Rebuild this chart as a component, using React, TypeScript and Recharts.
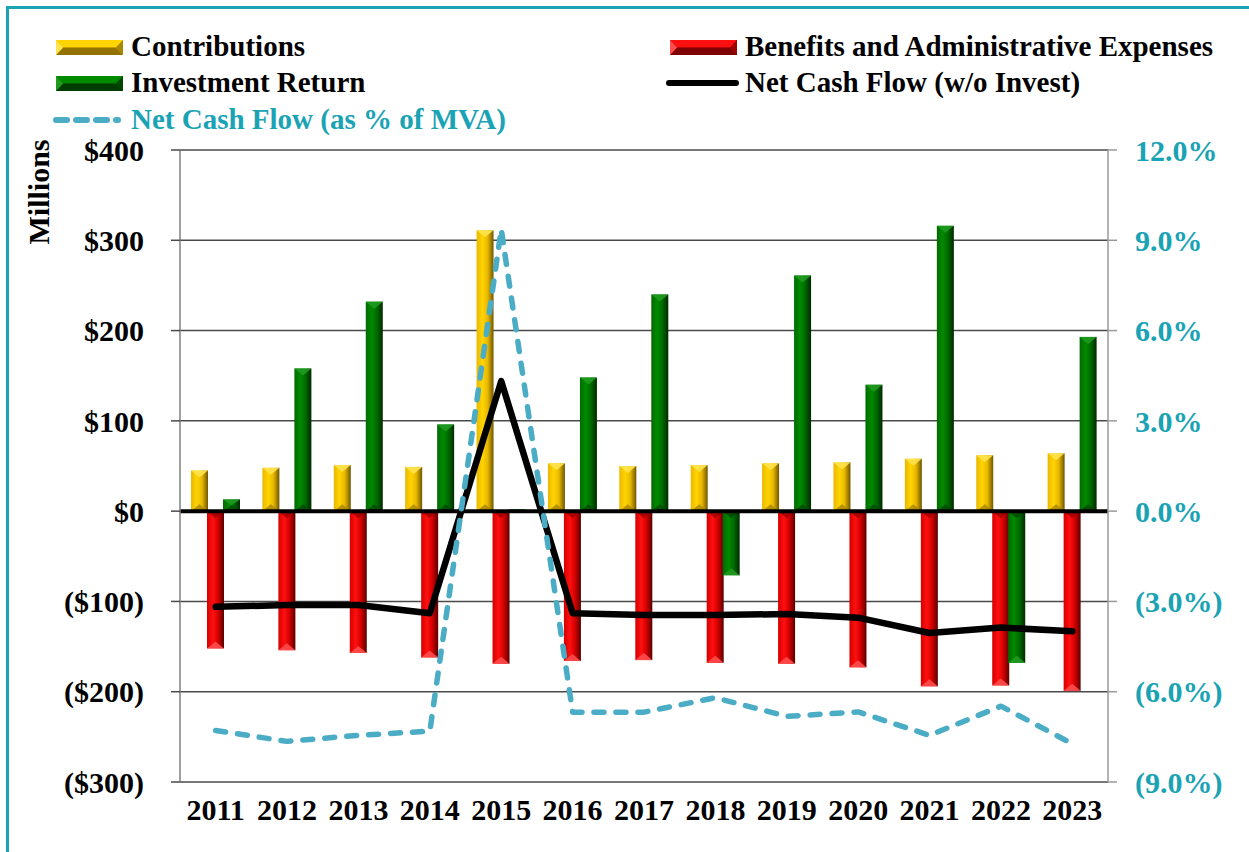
import React from "react";
import {
  ComposedChart,
  Bar,
  Line,
  XAxis,
  YAxis,
  CartesianGrid,
  ReferenceLine,
} from "recharts";

const years = ["2011", "2012", "2013", "2014", "2015", "2016", "2017", "2018", "2019", "2020", "2021", "2022", "2023"];
const contributions = [45, 48, 51, 49, 311, 53, 50, 51, 53, 54, 58, 62, 64];
const benefits = [-152, -154, -157, -162, -169, -166, -165, -168, -169, -173, -194, -193, -199];
const investment = [13, 158, 232, 96, 2, 148, 240, -71, 261, 140, 316, -168, 193];
const netCash = [-106, -104, -104, -113, 144, -113, -115, -115, -114, -118, -135, -129, -133];
const netPct = [-7.29, -7.65, -7.45, -7.31, 9.37, -6.68, -6.68, -6.2, -6.82, -6.67, -7.45, -6.48, -7.73];

const leftTicks = [-300, -200, -100, 0, 100, 200, 300, 400];
const rightTicks = [-9, -6, -3, 0, 3, 6, 9, 12];

const data = years.map((year, i) => ({
  year,
  contributions: contributions[i],
  benefits: benefits[i],
  investment: investment[i],
  netCash: netCash[i],
  netPct: netPct[i],
}));

const FONT = "'Liberation Serif', 'Times New Roman', serif";
const TEAL = "#19a3b4";
const LINE_BLUE = "#4bacc6";

const TONES: Record<string, { light: string; mid: string; dark: string; cap: string; base: string }> = {
  gold: { light: "#ffd400", mid: "#e8b800", dark: "#6e5600", cap: "#ffe34d", base: "#a88600" },
  red: { light: "#ff1010", mid: "#d40000", dark: "#5a0000", cap: "#ff4d4d", base: "#a00000" },
  green: { light: "#008a00", mid: "#006a00", dark: "#002a00", cap: "#1f9a1f", base: "#004800" },
};

function Gradients() {
  return (
    <svg width={0} height={0} style={{ position: "absolute" }}>
      <defs>
        {Object.entries(TONES).map(([k, t]) => (
          <linearGradient key={k} id={`grad-${k}`} x1="0" y1="0" x2="1" y2="0">
            <stop offset="0%" stopColor={t.mid} />
            <stop offset="35%" stopColor={t.light} />
            <stop offset="65%" stopColor={t.mid} />
            <stop offset="100%" stopColor={t.dark} />
          </linearGradient>
        ))}
      </defs>
    </svg>
  );
}

function makeBevel(tone: string) {
  return (props: any) => {
    const { x, y, width, height, value } = props;
    if (!width || height === undefined) return <g />;
    let top = y;
    let h = height;
    if (h < 0) {
      top = y + h;
      h = -h;
    }
    const t = TONES[tone];
    const neg = value < 0;
    const b = Math.min(width / 2, h / 2, 7);
    const cap = neg
      ? `${x},${top + h} ${x + width},${top + h} ${x + width / 2},${top + h - b}`
      : `${x},${top} ${x + width},${top} ${x + width / 2},${top + b}`;
    const bottom = neg
      ? `${x},${top} ${x + width},${top} ${x + width / 2},${top + b}`
      : `${x},${top + h} ${x + width},${top + h} ${x + width / 2},${top + h - b}`;
    return (
      <g>
        <rect x={x} y={top} width={width} height={h} fill={`url(#grad-${tone})`} />
        <polygon points={cap} fill={t.cap} opacity={0.9} />
        <polygon points={bottom} fill={t.base} opacity={0.8} />
      </g>
    );
  };
}

const leftFmt = (v: number) => (v < 0 ? `($${-v})` : `$${v}`);
const rightFmt = (v: number) => (v < 0 ? `(${(-v).toFixed(1)}%)` : `${v.toFixed(1)}%`);

function Swatch({ tone }: { tone: string }) {
  const t = TONES[tone];
  return (
    <svg width={67} height={15} style={{ position: "absolute" }}>
      <rect x={0} y={0} width={67} height={15} fill={t.mid} />
      <polygon points="0,0 67,0 60,7.5 7,7.5" fill={t.light} />
      <polygon points="0,15 67,15 60,7.5 7,7.5" fill={t.dark} opacity={0.7} />
      <polygon points="0,0 7,7.5 0,15" fill={t.cap} />
      <polygon points="67,0 60,7.5 67,15" fill={t.base} />
    </svg>
  );
}

const legendText: React.CSSProperties = {
  position: "absolute",
  fontFamily: FONT,
  fontWeight: "bold",
  fontSize: 29,
  lineHeight: "32px",
  whiteSpace: "nowrap",
  color: "#000",
};

export default function App() {
  return (
    <div
      style={{
        position: "absolute",
        left: 0,
        top: 0,
        width: 1249,
        height: 852,
        overflow: "hidden",
        background: "#fff",
      }}
    >
      <Gradients />
      <div
        style={{
          position: "absolute",
          left: 6,
          top: 6,
          width: 1300,
          height: 900,
          border: `3px solid ${TEAL}`,
        }}
      />
      <ComposedChart
        width={1249}
        height={852}
        data={data}
        margin={{ top: 150, right: 0, bottom: 0, left: 0 }}
        barSize={17}
        barGap={-1}
        style={{ position: "absolute", left: 0, top: 0 }}
      >
        <CartesianGrid vertical={false} stroke="#4a4a4a" strokeWidth={1.5} yAxisId="left" />
        <XAxis
          dataKey="year"
          height={70}
          axisLine={false}
          tickLine={false}
          tickSize={0}
          tickMargin={17}
          interval={0}
          tick={{ fill: "#000", fontFamily: FONT, fontWeight: "bold", fontSize: 30 }}
        />
        <YAxis
          yAxisId="left"
          width={180}
          domain={[-300, 400]}
          ticks={leftTicks}
          tickFormatter={leftFmt}
          axisLine={{ stroke: "#7f7f7f", strokeWidth: 1.5 }}
          tickLine={{ stroke: "#4a4a4a", strokeWidth: 1.5 }}
          tickSize={9}
          tickMargin={27}
          interval={0}
          tick={{ fill: "#000", fontFamily: FONT, fontWeight: "bold", fontSize: 30 }}
        />
        <YAxis
          yAxisId="right"
          orientation="right"
          width={141}
          domain={[-9, 12]}
          ticks={rightTicks}
          tickFormatter={rightFmt}
          axisLine={{ stroke: "#9a9a9a", strokeWidth: 1.5 }}
          tickLine={{ stroke: "#9a9a9a", strokeWidth: 1.5 }}
          tickSize={9}
          tickMargin={18}
          interval={0}
          tick={{ fill: TEAL, fontFamily: FONT, fontWeight: "bold", fontSize: 30 }}
        />
        <Bar yAxisId="left" dataKey="contributions" fill="#e8b800" shape={makeBevel("gold")} isAnimationActive={false} />
        <Bar yAxisId="left" dataKey="benefits" fill="#d40000" shape={makeBevel("red")} isAnimationActive={false} />
        <Bar yAxisId="left" dataKey="investment" fill="#006a00" shape={makeBevel("green")} isAnimationActive={false} />
        <ReferenceLine yAxisId="left" y={0} stroke="#000" strokeWidth={4} />
        <Line
          yAxisId="left"
          type="linear"
          dataKey="netCash"
          stroke="#000"
          strokeWidth={6.5}
          strokeLinecap="round"
          strokeLinejoin="round"
          dot={false}
          activeDot={false}
          isAnimationActive={false}
        />
        <Line
          yAxisId="right"
          type="linear"
          dataKey="netPct"
          stroke={LINE_BLUE}
          strokeWidth={5.5}
          strokeDasharray="10 12"
          strokeLinecap="round"
          strokeLinejoin="round"
          dot={false}
          activeDot={false}
          isAnimationActive={false}
        />
      </ComposedChart>

      {/* Y axis title */}
      <svg width={60} height={200} style={{ position: "absolute", left: 10, top: 100 }}>
        <text
          x={0}
          y={0}
          transform="translate(28,92) rotate(-90)"
          textAnchor="middle"
          dominantBaseline="central"
          fontFamily={FONT}
          fontWeight="bold"
          fontSize={30}
          fill="#000"
        >
          Millions
        </text>
      </svg>

      {/* Legend */}
      <div style={{ position: "absolute", left: 56, top: 40 }}>
        <Swatch tone="gold" />
      </div>
      <div style={{ ...legendText, left: 131, top: 30 }}>Contributions</div>
      <div style={{ position: "absolute", left: 670, top: 40 }}>
        <Swatch tone="red" />
      </div>
      <div style={{ ...legendText, left: 745, top: 30 }}>Benefits and Administrative Expenses</div>

      <div style={{ position: "absolute", left: 56, top: 76 }}>
        <Swatch tone="green" />
      </div>
      <div style={{ ...legendText, left: 131, top: 66 }}>Investment Return</div>
      <svg width={80} height={14} style={{ position: "absolute", left: 664, top: 76 }}>
        <line x1={5} y1={7} x2={72} y2={7} stroke="#000" strokeWidth={6} strokeLinecap="round" />
      </svg>
      <div style={{ ...legendText, left: 745, top: 66 }}>Net Cash Flow (w/o Invest)</div>

      <svg width={80} height={14} style={{ position: "absolute", left: 50, top: 113 }}>
        <line
          x1={6}
          y1={7}
          x2={68}
          y2={7}
          stroke={LINE_BLUE}
          strokeWidth={6}
          strokeDasharray="11 9"
          strokeLinecap="round"
        />
      </svg>
      <div style={{ ...legendText, left: 131, top: 103, color: TEAL }}>Net Cash Flow (as % of MVA)</div>
    </div>
  );
}
